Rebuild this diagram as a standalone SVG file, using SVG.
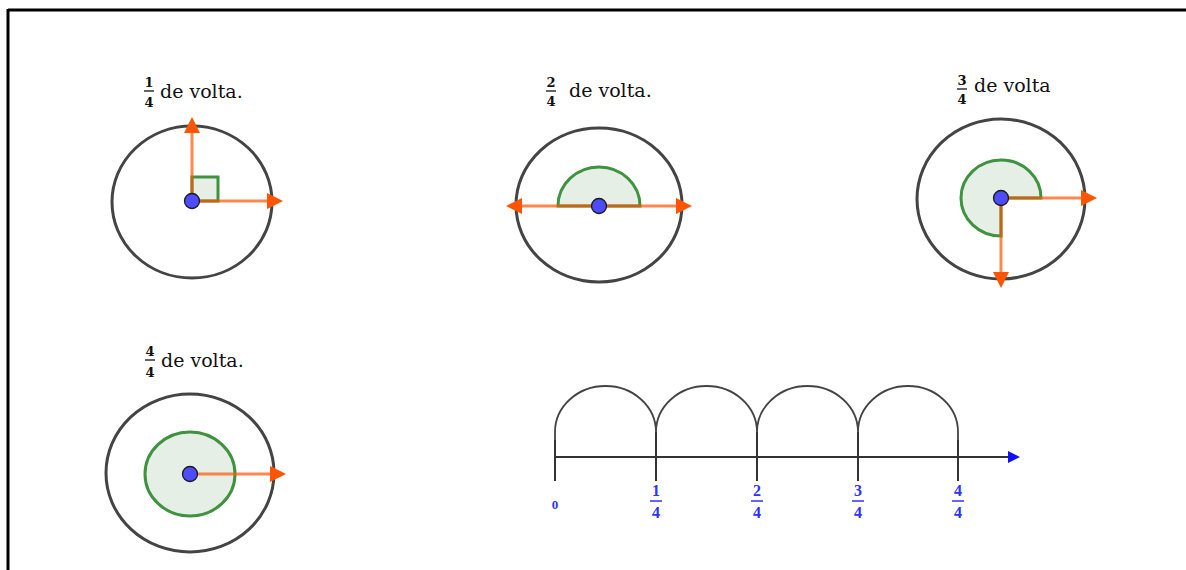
<svg xmlns="http://www.w3.org/2000/svg" width="1186" height="570" viewBox="0 0 1186 570">
<defs>
<marker id="oa" markerUnits="userSpaceOnUse" markerWidth="18" markerHeight="18" viewBox="0 -9 17 18" refX="0" refY="0" orient="auto">
<path d="M0,-8 L16,0 L0,8 z" fill="#ff5500"/>
</marker>
</defs>
<style>
.ring{fill:none;stroke:#444;stroke-width:3}
.ang{fill:#e6efe6;stroke:#3f923f;stroke-width:3}
.ray{stroke:#ff5500;stroke-opacity:0.7;stroke-width:3;marker-end:url(#oa)}
.dot{fill:#4d4dff;stroke:#1a1a1a;stroke-width:1.3}
.lbl{font-family:"DejaVu Serif",serif;font-size:19px;fill:#111}
.fr{font-family:"DejaVu Serif",serif;font-size:13px;font-weight:bold;fill:#111;text-anchor:middle}
.bar{stroke:#111;stroke-width:1.3}
.nl{stroke:#333;stroke-width:2;fill:none}
.arc{stroke:#444;stroke-width:1.8;fill:none}
.bl{font-family:"Liberation Serif",serif;font-weight:bold;font-size:16px;fill:#3030ff;text-anchor:middle}
.bbar{stroke:#3030ff;stroke-width:1.5}
</style>
<g id="frame">
<line x1="8" y1="10" x2="1186" y2="10" stroke="#000" stroke-width="3"/>
<line x1="8" y1="9" x2="8" y2="570" stroke="#000" stroke-width="3"/>
</g>
<g id="quarter">
<text class="fr" x="149" y="87">1</text>
<line class="bar" x1="144" y1="91" x2="154" y2="91"/>
<text class="fr" x="149" y="107">4</text>
<text class="lbl" x="160" y="98">de volta.</text>
<ellipse class="ring" cx="192" cy="202" rx="80" ry="76"/>
<rect class="ang" x="192" y="177" width="26" height="24"/>
<line class="ray" x1="192" y1="201" x2="192" y2="133"/>
<line class="ray" x1="192" y1="201" x2="267" y2="201"/>
<circle class="dot" cx="192" cy="201" r="7.5"/>
</g>
<g id="half">
<text class="fr" x="551" y="87">2</text>
<line class="bar" x1="546" y1="91" x2="556" y2="91"/>
<text class="fr" x="551" y="106">4</text>
<text class="lbl" x="569" y="97">de volta.</text>
<ellipse class="ring" cx="599" cy="205" rx="83" ry="77"/>
<path class="ang" d="M558,206 A41,39 0 0 1 640,206 Z"/>
<line class="ray" x1="599" y1="206" x2="522" y2="206"/>
<line class="ray" x1="599" y1="206" x2="676" y2="206"/>
<circle class="dot" cx="599" cy="206" r="7.5"/>
</g>
<g id="threequarter">
<text class="fr" x="962" y="85">3</text>
<line class="bar" x1="957" y1="89" x2="967" y2="89"/>
<text class="fr" x="962" y="104">4</text>
<text class="lbl" x="974" y="92">de volta</text>
<ellipse class="ring" cx="1001" cy="199" rx="84" ry="80"/>
<path class="ang" d="M1001,198 L1041,198 A40,38 0 1 0 1001,236 Z"/>
<line class="ray" x1="1001" y1="198" x2="1081" y2="198"/>
<line class="ray" x1="1001" y1="198" x2="1001" y2="272"/>
<circle class="dot" cx="1001" cy="198" r="7.5"/>
</g>
<g id="full">
<text class="fr" x="150" y="356">4</text>
<line class="bar" x1="145" y1="360" x2="155" y2="360"/>
<text class="fr" x="150" y="377">4</text>
<text class="lbl" x="161" y="367">de volta.</text>
<ellipse class="ring" cx="190" cy="473" rx="84" ry="79"/>
<ellipse class="ang" cx="190" cy="474" rx="45" ry="42"/>
<line class="ray" x1="190" y1="474" x2="270" y2="474"/>
<circle class="dot" cx="190" cy="474" r="7.5"/>
</g>
<g id="numberline">
<line class="nl" x1="555" y1="457" x2="1010" y2="457"/>
<polygon points="1008,451 1020,457 1008,463" fill="#1010ff"/>
<path class="arc" d="M555,481 V432 A50.5,46 0 0 1 656,432 A50.5,46 0 0 1 757,432 A50.5,46 0 0 1 858,432 A50,46 0 0 1 958,432 V481"/>
<line class="nl" x1="656" y1="432" x2="656" y2="481"/>
<line class="nl" x1="757" y1="432" x2="757" y2="481"/>
<line class="nl" x1="858" y1="432" x2="858" y2="481"/>
<line class="nl" x1="555" y1="440" x2="555" y2="481"/>
<line class="nl" x1="958" y1="440" x2="958" y2="481"/>
<text class="bl" x="555" y="509" style="font-size:13px">0</text>
<text class="bl" x="656" y="496">1</text>
<line class="bbar" x1="650" y1="501" x2="662" y2="501"/>
<text class="bl" x="656" y="518">4</text>
<text class="bl" x="757" y="496">2</text>
<line class="bbar" x1="751" y1="501" x2="763" y2="501"/>
<text class="bl" x="757" y="518">4</text>
<text class="bl" x="858" y="496">3</text>
<line class="bbar" x1="852" y1="501" x2="864" y2="501"/>
<text class="bl" x="858" y="518">4</text>
<text class="bl" x="958" y="496">4</text>
<line class="bbar" x1="952" y1="501" x2="964" y2="501"/>
<text class="bl" x="958" y="518">4</text>
</g>
</svg>
